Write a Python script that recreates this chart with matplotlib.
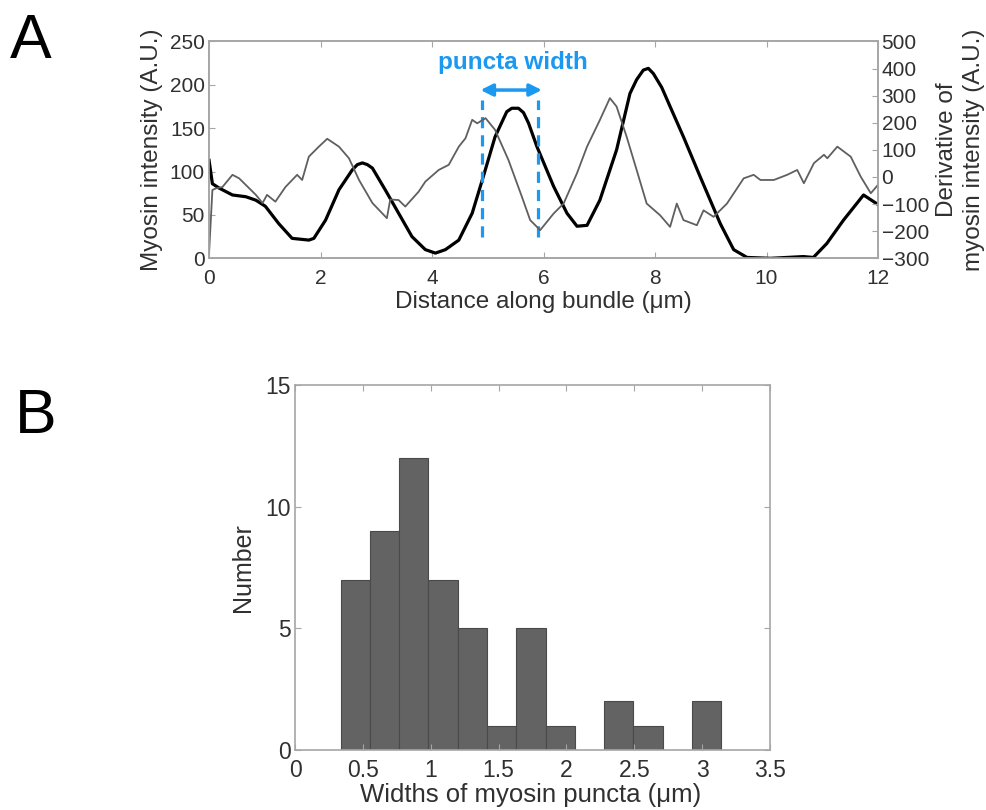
import numpy as np
import matplotlib.pyplot as plt

plt.rcParams['font.family'] = ['Liberation Sans', 'DejaVu Sans']
plt.rcParams['font.size'] = 15

# Panel A: myosin intensity profile along one bundle (left axis)
dist_int = [0.0, 0.06, 0.18, 0.42, 0.66, 0.84, 1.01, 1.25, 1.49, 1.79, 1.88,
            2.09, 2.33, 2.57, 2.66, 2.75, 2.84, 2.93, 3.16, 3.40, 3.64, 3.88,
            4.06, 4.24, 4.48, 4.72, 4.90, 5.13, 5.34, 5.43, 5.55, 5.64, 5.73,
            5.88, 6.18, 6.42, 6.60, 6.78, 7.01, 7.31, 7.55, 7.67, 7.79, 7.88,
            7.97, 8.12, 8.27, 8.51, 8.81, 9.17, 9.41, 9.65, 10.07, 10.66,
            10.84, 11.08, 11.38, 11.74, 12.0]
intensity = [113, 86, 81, 73, 71, 67, 60, 40, 23, 21, 23,
             44, 79, 102, 108, 110, 108, 104, 79, 52, 25, 10,
             6, 10, 21, 52, 90, 140, 169, 173, 173, 168, 156,
             129, 83, 52, 37, 38, 67, 125, 190, 206, 217, 219,
             213, 197, 175, 140, 94, 40, 10, 1, 0, 2,
             1, 17, 44, 73, 62]

# derivative of the intensity (right axis)
dist_der = [0.0, 0.06, 0.12, 0.24, 0.42, 0.54, 0.84, 0.96, 1.04, 1.19, 1.37,
            1.58, 1.67, 1.79, 1.97, 2.12, 2.33, 2.51, 2.69, 2.93, 3.19, 3.25,
            3.40, 3.52, 3.76, 3.88, 4.12, 4.30, 4.48, 4.60, 4.72, 4.81, 4.96,
            5.13, 5.37, 5.61, 5.76, 5.94, 6.18, 6.36, 6.60, 6.78, 7.01, 7.19,
            7.31, 7.49, 7.67, 7.85, 8.09, 8.27, 8.39, 8.51, 8.75, 8.87, 9.05,
            9.29, 9.59, 9.77, 9.89, 10.13, 10.37, 10.55, 10.67, 10.85, 11.03,
            11.09, 11.27, 11.51, 11.69, 11.87, 12.0]
derivative = [-282, -48, -42, -37, 8, -5, -66, -96, -66, -91, -37,
              8, -11, 75, 112, 141, 112, 69, -11, -96, -152, -83,
              -85, -109, -54, -17, 26, 45, 112, 143, 211, 198, 217,
              174, 63, -72, -159, -196, -135, -98, 14, 112, 210, 291,
              260, 149, 26, -98, -141, -184, -98, -159, -178, -123, -147,
              -98, -5, 8, -11, -11, 8, 26, -23, 51, 82,
              69, 112, 75, 1, -60, -29]

# puncta width markers
width_edges = [4.90, 5.90]

# Panel B: histogram of puncta widths
bin_start = 0.336
bin_width = 0.2157
counts = [7, 9, 12, 7, 5, 1, 5, 1, 0, 2, 1, 0, 2]

blue = '#1b98f0'
spine_c = '#a6a6a6'
text_c = '#303030'

fig = plt.figure(figsize=(9.87, 8.1), dpi=100)

axA = fig.add_axes([0.2118, 0.6811, 0.6778, 0.2677])
axA.plot(dist_int, intensity, color='black', lw=2.3, zorder=3)
axA.set_xlim(0, 12)
axA.set_ylim(0, 250)
axA.set_xticks(np.arange(0, 13, 2))
axA.set_yticks(np.arange(0, 251, 50))
axA.set_xlabel('Distance along bundle (μm)', color=text_c, fontsize=17.5,
               va='center')
axA.set_ylabel('Myosin intensity (A.U.)', color=text_c, fontsize=17.5,
               va='center')
axA.xaxis.set_label_coords(0.5, -0.202)
axA.yaxis.set_label_coords(-0.085, 0.5)

axA2 = axA.twinx()
axA2.plot(dist_der, derivative, color='#5f5f5f', lw=1.3, zorder=2)
axA2.set_ylim(-300, 500)
axA2.set_yticks(np.arange(-300, 501, 100))
axA2.set_ylabel('Derivative of\nmyosin intensity (A.U.)', color=text_c,
                fontsize=17.5, linespacing=1.3, va='center', ha='center')
axA2.yaxis.set_label_coords(1.123, 0.5)

for x in width_edges:
    axA.plot([x, x], [25, 183], color=blue, lw=2.3, ls=(0, (3.5, 2.2)), zorder=4)
axA.annotate('', xy=(width_edges[1] + 0.07, 194), xytext=(width_edges[0] - 0.03, 194),
             arrowprops=dict(arrowstyle='<|-|>', color=blue, lw=2.5,
                             mutation_scale=18, shrinkA=0, shrinkB=0))
axA.text(5.45, 226, 'puncta width', color=blue, fontsize=17.5,
         fontweight='bold', ha='center', va='center')

axB = fig.add_axes([0.2989, 0.0741, 0.4813, 0.4506])
lefts = bin_start + bin_width * np.arange(len(counts))
axB.bar(lefts, counts, width=bin_width, align='edge', color='#636363',
        edgecolor='#4a4a4a', linewidth=0.8)
axB.set_xlim(0, 3.5)
axB.set_ylim(0, 15)
axB.set_xticks(np.arange(0, 3.51, 0.5))
axB.set_xticklabels(['0', '0.5', '1', '1.5', '2', '2.5', '3', '3.5'])
axB.set_yticks([0, 5, 10, 15])
axB.set_xlabel('Widths of myosin puncta (μm)', color=text_c, fontsize=18.5,
               va='center')
axB.set_ylabel('Number', color=text_c, fontsize=18, va='center')
axB.xaxis.set_label_coords(0.495, -0.123)
axB.yaxis.set_label_coords(-0.109, 0.5)

for ax in (axA, axA2, axB):
    for s in ax.spines.values():
        s.set_color(spine_c)
        s.set_linewidth(1.2)
    ax.tick_params(direction='in', length=4, color=spine_c, labelcolor=text_c)
axA.tick_params(axis='x', top=True, pad=8)
axA.tick_params(axis='y', pad=3)
axA2.tick_params(axis='y', pad=2.5)
axB.tick_params(top=True, right=True, labelsize=16.5)
axB.tick_params(axis='x', pad=6.5)
axB.tick_params(axis='y', pad=3)

fig.text(0.010, 1 - 58 / 810, 'A', fontsize=45, va='baseline', ha='left')
fig.text(0.015, 1 - 433 / 810, 'B', fontsize=45, va='baseline', ha='left')

fig.savefig('out.png', dpi=100)
